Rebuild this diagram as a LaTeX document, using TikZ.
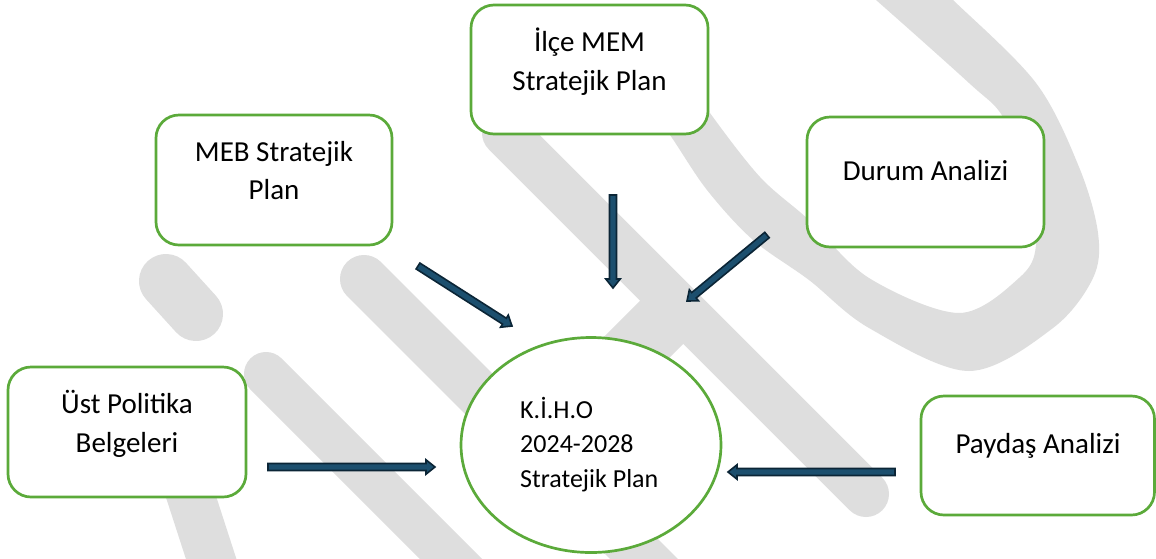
\documentclass[tikz,border=0pt]{standalone}
\usepackage{fontspec}
\setmainfont{Carlito}
\usetikzlibrary{calc,shapes.geometric}
\definecolor{boxgreen}{HTML}{5BAA3A}
\definecolor{wmgray}{HTML}{DEDEDE}
\definecolor{arrout}{HTML}{0B2536}
\definecolor{arrin}{HTML}{1C4F6E}
\newcommand{\blockarr}[2]{%
  \coordinate (#1-h) at ($(#2)!9pt!(#1)$);
  \filldraw[arr] ($(#1)!3.5pt!90:(#2)$) -- ($(#1-h)!3.5pt!90:(#2)$) -- ($(#1-h)!7.2pt!90:(#2)$) -- (#2)
    -- ($(#1-h)!7.2pt!-90:(#2)$) -- ($(#1-h)!3.5pt!-90:(#2)$) -- ($(#1)!3.5pt!-90:(#2)$) -- cycle;
}
\begin{document}
\begin{tikzpicture}[x=1pt,y=-1pt,
  box/.style={draw=boxgreen, line width=2.7pt, fill=white, rounded corners=23pt, inner sep=0pt},
  oval/.style={ellipse, draw=boxgreen, line width=2.7pt, fill=white, inner sep=0pt},
  boxtext/.style={anchor=base, inner sep=0pt, font=\fontsize{29}{38}\selectfont},
  ovaltext/.style={anchor=base west, inner sep=0pt, font=\fontsize{26}{34}\selectfont},
  wm/.style={draw=wmgray, line cap=round},
  arr/.style={fill=arrin, draw=arrout, line width=1.6pt, line join=miter}]
\useasboundingbox (0,0) rectangle (1156,558);
\fill[white] (0,0) rectangle (1156,558);
% watermark
\begin{scope}
\clip (0,0) rectangle (1156,558);
\draw[wm, line width=54pt] (166,281) -- (196,314);
\draw[wm, line width=48pt] (158,395) -- (218,580);
\draw[wm, line width=44pt] (266,374) -- (490,598);
\draw[wm, line width=48pt] (364,279) -- (665,580);
\draw[wm, line width=46pt] (505,133) -- (866,494);
\draw[draw=wmgray, line width=61pt] (590,394) -- (678,306);
\fill[wmgray] plot[smooth, tension=0.55] coordinates {(640,95) (670,135) (707,190) (753,240) (809,280) (869,328) (969,371) (1053,328) (1093,278) (1098,233) (1079,167) (1036,83) (953,0) (920,-30)}
  -- plot[smooth, tension=0.55] coordinates {(840,-30) (876,0) (969,83) (1003,117) (1028,180) (1036,245) (1019,278) (959,313) (869,278) (809,220) (760,177) (710,113) (690,80)} -- cycle;
\end{scope}
% boxes
\node[box, minimum width=237pt, minimum height=129pt] (ilce) at (589.5,69.5) {};
\node[box, minimum width=236pt, minimum height=130pt] (meb) at (274,180) {};
\node[box, minimum width=237pt, minimum height=130pt] (durum) at (925.5,182) {};
\node[box, minimum width=238pt, minimum height=130pt] (ust) at (127,432) {};
\node[box, minimum width=233.5pt, minimum height=119pt] (paydas) at (1037.75,455.5) {};
\node[oval, minimum width=260pt, minimum height=215pt] (kiho) at (591,445) {};
% texts
\node[boxtext] (ilce1) at (589.5,51) {İlçe MEM};
\node[boxtext] (ilce2) at (589.5,90) {Stratejik Plan};
\node[boxtext] (meb1) at (274,161) {MEB Stratejik};
\node[boxtext] (meb2) at (274,199) {Plan};
\node[boxtext] (durum1) at (925.5,180) {Durum Analizi};
\node[boxtext] (ust1) at (127,413) {Üst Politika};
\node[boxtext] (ust2) at (127,452) {Belgeleri};
\node[boxtext] (paydas1) at (1038,453) {Paydaş Analizi};
\node[ovaltext] (kiho1) at (520,418) {K.İ.H.O};
\node[ovaltext] (kiho2) at (520,452) {2024-2028};
\node[ovaltext] (kiho3) at (520,487) {Stratejik Plan};
% arrows
\coordinate (a1s) at (418,266); \coordinate (a1e) at (512,326);
\coordinate (a2s) at (613,195); \coordinate (a2e) at (613,288);
\coordinate (a3s) at (767,235); \coordinate (a3e) at (687,301);
\coordinate (a4s) at (268,467); \coordinate (a4e) at (435,467);
\coordinate (a5s) at (895,472); \coordinate (a5e) at (728,472);
\blockarr{a1s}{a1e}
\blockarr{a2s}{a2e}
\blockarr{a3s}{a3e}
\blockarr{a4s}{a4e}
\blockarr{a5s}{a5e}
\end{tikzpicture}
\end{document}
